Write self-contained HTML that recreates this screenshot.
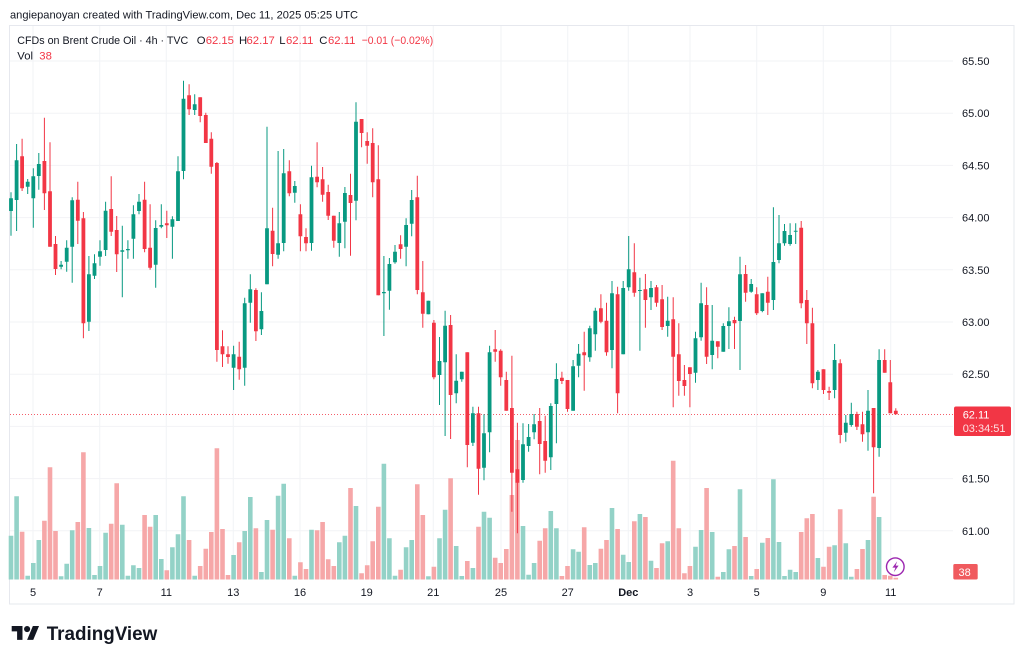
<!DOCTYPE html>
<html><head><meta charset="utf-8"><style>
html,body{margin:0;padding:0;background:#fff;}
svg{display:block;font-family:"Liberation Sans",sans-serif;}
</style></head><body>
<svg width="1024" height="661" viewBox="0 0 1024 661" xmlns="http://www.w3.org/2000/svg">
<rect width="1024" height="661" fill="#fff"/>
<text x="10" y="18.3" font-size="11" fill="#131722" textLength="348" lengthAdjust="spacingAndGlyphs">angiepanoyan created with TradingView.com, Dec 11, 2025 05:25 UTC</text>
<rect x="9.5" y="25.5" width="1004.5" height="578.5" fill="none" stroke="#e6e8ee" stroke-width="1"/>
<g stroke="#f2f3f6" stroke-width="1">
<path d="M33 26V580M99.7 26V580M166.3 26V580M233.3 26V580M300 26V580M366.7 26V580M433.3 26V580M501 26V580M567.7 26V580M628.3 26V580M690 26V580M756.7 26V580M823.3 26V580M890.7 26V580"/>
<path d="M10 61H953M10 113.2H953M10 165.4H953M10 217.6H953M10 269.8H953M10 322H953M10 374.2H953M10 426.4H953M10 478.6H953M10 530.8H953"/>
</g>
<!-- volume -->
<path fill="none" stroke="#93d2c7" stroke-width="4.6" d="M11 535.7V579.5M16.6 496.3V579.5M27.7 575.7V579.5M33.3 563V579.5M38.8 540V579.5M61.1 576.3V579.5M66.7 563.7V579.5M72.2 530.3V579.5M88.9 528V579.5M94.5 575V579.5M100 566V579.5M105.6 532.7V579.5M122.3 524.7V579.5M127.9 575.7V579.5M133.4 565.3V579.5M139 568V579.5M155.7 515V579.5M161.3 559V579.5M172.4 547.3V579.5M178 534.3V579.5M183.5 496.3V579.5M194.7 575.7V579.5M233.6 555V579.5M244.7 531V579.5M250.3 497V579.5M261.4 572V579.5M267 520V579.5M278.1 495.7V579.5M283.7 483.7V579.5M294.8 575.7V579.5M311.5 529.7V579.5M339.3 542.3V579.5M344.9 535.7V579.5M356 506V579.5M383.9 463.7V579.5M389.4 538.3V579.5M395 575.7V579.5M406.1 547.3V579.5M411.7 540V579.5M428.4 576.3V579.5M439.5 538.3V579.5M445.1 509.7V579.5M456.2 546V579.5M461.8 576V579.5M472.9 568V579.5M484 511.7V579.5M489.6 517.7V579.5M523 526V579.5M528.6 574.7V579.5M534.1 563V579.5M550.8 511V579.5M556.4 528.3V579.5M573.1 549.3V579.5M578.6 551.7V579.5M589.8 565V579.5M595.3 563V579.5M612 508V579.5M623.2 554.7V579.5M628.7 562V579.5M639.9 514V579.5M651 560.7V579.5M667.7 541.3V579.5M695.5 546.7V579.5M701.1 530V579.5M712.2 532V579.5M723.3 572V579.5M728.9 549.3V579.5M740 489.3V579.5M751.2 576V579.5M762.3 542.7V579.5M773.4 479.3V579.5M779 542V579.5M784.5 576V579.5M790.1 569.7V579.5M795.7 572V579.5M817.9 558V579.5M834.6 545.3V579.5M845.8 543.3V579.5M851.3 576.7V579.5M868 540V579.5M879.1 517V579.5"/>
<path fill="none" stroke="#f6a7a8" stroke-width="4.6" d="M22.1 531.7V579.5M44.4 520.7V579.5M50 467.3V579.5M55.5 531V579.5M77.8 522V579.5M83.4 452.3V579.5M111.2 523.7V579.5M116.7 483.3V579.5M144.6 515V579.5M150.1 526.7V579.5M166.8 570.3V579.5M189.1 540V579.5M200.2 566V579.5M205.8 548.7V579.5M211.3 532V579.5M216.9 448.3V579.5M222.5 529V579.5M228 575V579.5M239.2 542.3V579.5M255.9 528.3V579.5M272.6 529.7V579.5M289.3 538.3V579.5M300.4 562.3V579.5M306 569V579.5M317.1 530.3V579.5M322.6 522V579.5M328.2 559.3V579.5M333.8 566V579.5M350.5 488V579.5M361.6 573.3V579.5M367.2 565.3V579.5M372.7 541.3V579.5M378.3 506.7V579.5M400.6 569.7V579.5M417.3 484.3V579.5M422.8 515V579.5M433.9 566.7V579.5M450.6 478.3V579.5M467.3 561V579.5M478.5 526.7V579.5M495.2 557.7V579.5M500.7 563V579.5M506.3 549V579.5M511.9 495V579.5M517.4 440V579.5M539.7 540.7V579.5M545.2 528.3V579.5M561.9 576V579.5M567.5 566V579.5M584.2 527.3V579.5M600.9 548.7V579.5M606.5 540V579.5M617.6 529V579.5M634.3 521.3V579.5M645.4 517V579.5M656.5 568V579.5M662.1 543.3V579.5M673.2 460.7V579.5M678.8 528.3V579.5M684.4 573.3V579.5M689.9 566V579.5M706.6 488V579.5M717.8 576.7V579.5M734.5 546V579.5M745.6 537V579.5M756.7 569V579.5M767.8 538V579.5M801.2 532V579.5M806.8 518.3V579.5M812.4 514V579.5M823.5 566.7V579.5M829.1 546.7V579.5M840.2 509.3V579.5M856.9 569V579.5M862.5 549V579.5M873.6 496.7V579.5M884.7 575V579.5M890.3 575.7V579.5M895.8 577.7V579.5"/>
<!-- price line -->
<path d="M10 414.5H953" stroke="#f23645" stroke-width="1" stroke-dasharray="1 2" opacity="0.8"/>
<!-- green candles -->
<path fill="none" stroke="#089981" stroke-width="1" d="M11 192.3V235.7M16.6 144V231M27.7 179V194M33.3 168.3V227.7M38.8 153V189.7M61.1 261V269.3M66.7 240.3V271.7M72.2 197.3V282.7M88.9 256V331M94.5 254.3V279M100 240.3V265.7M105.6 201.7V256M122.3 225.7V297.3M127.9 240.3V258.7M133.4 205.3V258.7M139 194V214.3M155.7 220.3V287.7M161.3 204.3V228.3M172.4 216.3V258.7M178 156.3V221M183.5 80.7V179.3M194.7 94.3V115M233.6 345.7V390M244.7 297.7V385.7M250.3 274.3V322.7M261.4 292.3V335M267 126.7V284.3M278.1 151V258.7M283.7 149V251.3M294.8 181V202.7M311.5 165.7V250.7M339.3 212V256.7M344.9 187V248.3M356 102.3V220.3M383.9 256V336M389.4 258V309.7M395 245V263.7M406.1 218.3V266.3M411.7 190V236.3M428.4 300.7V314.3M439.5 337V405M445.1 310.7V436M456.2 354.3V403.3M461.8 371.7V381.7M472.9 406.7V446M484 414.3V480.3M489.6 345.7V452.3M523 423.3V482.7M528.6 424V451.7M534.1 414V439.3M550.8 403.3V470M556.4 363.3V443.3M573.1 360V410.7M578.6 344V377.3M589.8 325.7V361.7M595.3 307.7V350.7M612 281V368.3M623.2 281V354.3M628.7 236V290.7M639.9 277.7V350.7M651 281V310M667.7 296.7V336.7M695.5 331.7V382.7M701.1 282.7V340.7M712.2 305V369.3M723.3 323.3V351.7M728.9 307.3V349M740 256.7V370M751.2 279V292.7M762.3 293.3V312.3M773.4 207.3V310M779 215V263.3M784.5 224V245.7M790.1 223.3V245.7M795.7 223.3V244M817.9 370V390M834.6 344V398.3M845.8 415V441.7M851.3 402.7V426.7M868 390V450.7M879.1 349.3V456.7"/>
<path fill="none" stroke="#089981" stroke-width="3.8" d="M11 198.3V211M16.6 160.3V200M27.7 181.7V186.7M33.3 176.3V198.3M38.8 164V176M61.1 264.7V266.7M66.7 247.7V261.7M72.2 200.3V246.7M88.9 274.3V321.7M94.5 263.3V275.7M100 251.3V256.7M105.6 210.7V250M122.3 250.3V251.7M127.9 249V250.2M133.4 214.3V238.7M139 201.7V211M155.7 228V264.7M161.3 225V226.7M172.4 219.3V226.7M178 171.3V221M183.5 98.7V171M194.7 104.3V110M233.6 354.3V367.7M244.7 303.3V367.7M250.3 289.3V302.7M261.4 311V329.3M267 228.3V284.3M278.1 243.3V254.7M283.7 173.3V243M294.8 186V192.7M311.5 177.3V243M339.3 223.3V243M344.9 193V221.7M356 121.7V200.7M383.9 292V293.3M389.4 264V290.7M395 251.7V262.3M406.1 225V246.7M411.7 200V223.7M428.4 300.7V314.3M439.5 361V375M445.1 325.7V362.3M456.2 380.7V393.3M461.8 371.7V379.3M472.9 413.3V442.7M484 433.3V467.7M489.6 352.3V432.3M523 444.3V480M528.6 437V446M534.1 424.3V432.3M550.8 406V457.3M556.4 379V404M573.1 366.3V410.7M578.6 353.7V365.7M589.8 328.3V357.3M595.3 310.7V334.3M612 293.3V350M623.2 288V354.3M628.7 269.3V287.3M639.9 290V291M651 288V297.3M667.7 320.7V326M695.5 338.3V372.7M701.1 303.3V337.3M712.2 340.7V355M723.3 326V351.7M728.9 321.3V326M740 274.3V321M751.2 284V291.7M762.3 293.3V311M773.4 262V300M779 243.3V260M784.5 231V243.3M790.1 235V244M795.7 230.7V231.7M817.9 371.7V380M834.6 360V390M845.8 422.7V432.7M851.3 414V425M868 410.7V432.3M879.1 360V448"/>
<!-- red candles -->
<path fill="none" stroke="#f23645" stroke-width="1" d="M22.1 138.7V191M44.4 117.7V210M50 142.3V246.7M55.5 236V275M77.8 181.7V244M83.4 212V338.3M111.2 176.3V236M116.7 216V272M144.6 181.7V252.3M150.1 204.3V269.7M166.8 210.7V238M189.1 84.3V115M200.2 97.3V122.3M205.8 112.7V143M211.3 132.3V173.7M216.9 162V361.7M222.5 330.3V367M228 346.3V363.7M239.2 341.7V379.7M255.9 288.3V341M272.6 207.7V266.3M289.3 160.3V196.3M300.4 204.3V251.3M306 228.3V251.3M317.1 142.3V187.3M322.6 167V201.7M328.2 184.7V220M333.8 215.7V247.7M350.5 173.7V255.7M361.6 119V147.3M367.2 132.3V163.7M372.7 128.3V197.3M378.3 145.3V295.3M400.6 235.3V258.7M417.3 175.7V294.3M422.8 261V327.7M433.9 320V379.3M450.6 315V439M467.3 352.3V467.3M478.5 406.7V494.7M495.2 330V361.7M500.7 349.3V385.7M506.3 371.7V410.7M511.9 355.7V511.7M517.4 422.7V533.3M539.7 408V474.3M545.2 415.7V472.7M561.9 371.7V384M567.5 380V411.7M584.2 331.7V390.7M600.9 294.3V323.3M606.5 302.7V355.7M617.6 286.7V413.3M634.3 243.3V296.7M645.4 274V327.7M656.5 285V306.7M662.1 285V330M673.2 297.3V407.3M678.8 323.3V395.7M684.4 365V395.7M689.9 367.3V407.3M706.6 287.3V364M717.8 341.3V358.3M734.5 316.7V349M745.6 265V301.7M756.7 287.3V315M767.8 276.7V315M801.2 221V308.3M806.8 290V344M812.4 307.7V388.3M823.5 369.3V394M829.1 386.7V400M840.2 359.3V443.3M856.9 411.7V430M862.5 411.7V441.7M873.6 408V493.3M884.7 349.3V372.7M890.3 360V413.3M895.8 408.3V414.3"/>
<path fill="none" stroke="#f23645" stroke-width="3.8" d="M22.1 156.3V188.3M44.4 161V193.3M50 191.3V246.7M55.5 244V269M77.8 199.7V220.7M83.4 218.3V323.3M111.2 209V231.7M116.7 230V254.3M144.6 199.7V249M150.1 247.7V267.7M166.8 223.3V225.3M189.1 95.3V109.3M200.2 97.3V116M205.8 115V143M211.3 138.7V166.7M216.9 163V350M222.5 346.3V354.3M228 354.3V357M239.2 356.7V369.3M255.9 290V331.3M272.6 230.7V254M289.3 171.3V193.3M300.4 214.3V236.3M306 237V243.3M317.1 176.7V182.3M322.6 179.3V194.7M328.2 192V215.7M333.8 215.7V240.7M350.5 195V203M361.6 119V133M367.2 141V145.7M372.7 143V182.3M378.3 179.3V295.3M400.6 244.3V249M417.3 197.3V290M422.8 292.3V313.7M433.9 322.7V377.3M450.6 325V395M467.3 352.3V445M478.5 413.3V468.7M495.2 349.3V351.7M500.7 350.7V377.3M506.3 380V410.7M511.9 408V472.7M517.4 469.3V482.7M539.7 421V444M545.2 441V460.7M561.9 377.7V381M567.5 380V409M584.2 352.3V355.3M600.9 308.3V321.7M606.5 320.7V352.3M617.6 294.3V393.3M634.3 272.3V292.7M645.4 289.3V300M656.5 287.3V302.7M662.1 299.3V327M673.2 319.3V356.7M678.8 354.3V381M684.4 380V386M689.9 367.3V374M706.6 305V356.7M717.8 341.3V346.7M734.5 320V323.3M745.6 274V292.7M756.7 294.3V313.3M767.8 291.7V302.7M801.2 227.7V303.3M806.8 300V323.3M812.4 323.3V383.3M823.5 369.3V390M829.1 391V392.7M840.2 363.3V435M856.9 414V426.7M862.5 424.3V434.3M873.6 408V447.3M884.7 360V372.7M890.3 382.3V413.3M895.8 410.7V414.3"/>
<!-- legend -->
<g font-size="11.3">
<text x="17.3" y="44" fill="#131722" textLength="171" lengthAdjust="spacingAndGlyphs">CFDs on Brent Crude Oil · 4h · TVC</text>
<text x="196.7" y="44" fill="#131722">O</text><text x="205.7" y="44" fill="#f23645">62.15</text>
<text x="239" y="44" fill="#131722">H</text><text x="246.5" y="44" fill="#f23645">62.17</text>
<text x="279.3" y="44" fill="#131722">L</text><text x="286" y="44" fill="#f23645">62.11</text>
<text x="319.3" y="44" fill="#131722">C</text><text x="328" y="44" fill="#f23645">62.11</text>
<text x="361.7" y="44" fill="#f23645" textLength="71.5" lengthAdjust="spacingAndGlyphs">−0.01 (−0.02%)</text>
<text x="17.3" y="59.3" fill="#131722">Vol</text><text x="39.3" y="59.3" fill="#f23645">38</text>
</g>
<!-- price axis -->
<g font-size="11" fill="#131722">
<text x="962" y="65">65.50</text>
<text x="962" y="117.2">65.00</text>
<text x="962" y="169.4">64.50</text>
<text x="962" y="221.6">64.00</text>
<text x="962" y="273.8">63.50</text>
<text x="962" y="326">63.00</text>
<text x="962" y="378.2">62.50</text>
<text x="962" y="482.6">61.50</text>
<text x="962" y="534.8">61.00</text>
</g>
<rect x="954" y="406.5" width="57" height="29.5" rx="2" fill="#f23645"/>
<text x="962.7" y="418.5" font-size="11" fill="#fff">62.11</text>
<text x="962.7" y="431.8" font-size="11" fill="#fde0e2">03:34:51</text>
<rect x="953.3" y="564" width="24.4" height="15.5" rx="1.5" fill="#f05a5e"/>
<text x="958.5" y="575.8" font-size="11" fill="#fff">38</text>
<!-- time axis -->
<g font-size="11" fill="#131722" text-anchor="middle">
<text x="33" y="596">5</text>
<text x="99.7" y="596">7</text>
<text x="166.3" y="596">11</text>
<text x="233.3" y="596">13</text>
<text x="300" y="596">16</text>
<text x="366.7" y="596">19</text>
<text x="433.3" y="596">21</text>
<text x="501" y="596">25</text>
<text x="567.7" y="596">27</text>
<text x="628.3" y="596" font-weight="bold">Dec</text>
<text x="690" y="596">3</text>
<text x="756.7" y="596">5</text>
<text x="823.3" y="596">9</text>
<text x="890.7" y="596">11</text>
</g>
<!-- lightning -->
<circle cx="895.3" cy="566.7" r="8.8" fill="#fff" stroke="#9c27b0" stroke-width="1.4"/>
<path d="M897.2 561.2L892.4 567.6H895.4L893.8 572.2L898.6 565.6H895.6Z" fill="#9c27b0"/>
<!-- logo -->
<g transform="translate(11.7 622.9) scale(0.77)" fill="#131722">
<path d="M14 22H7V11H0V4h14v18zM28 22h-8l7.5-18h8L28 22z"/>
<circle cx="20" cy="8" r="4"/>
</g>
<text x="46.7" y="640" font-size="19.5" font-weight="bold" fill="#131722" textLength="110.6" lengthAdjust="spacingAndGlyphs">TradingView</text>
</svg>
</body></html>
